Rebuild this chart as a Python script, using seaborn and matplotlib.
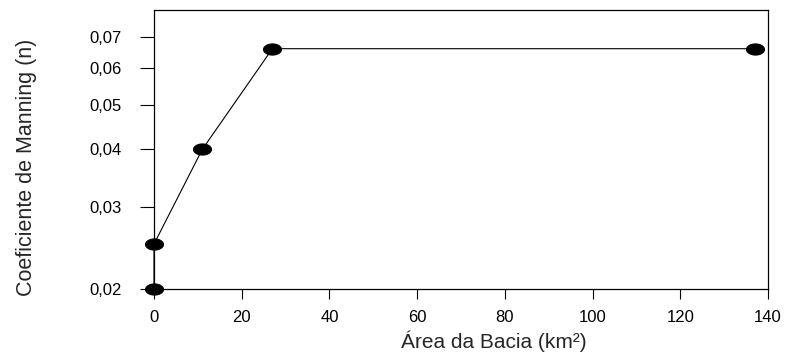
import numpy as np
import pandas as pd
import matplotlib
matplotlib.use("Agg")
import matplotlib.pyplot as plt
import matplotlib.ticker as mticker
import seaborn as sns

# valores
area_km2 = [0, 0, 11, 27, 137]
manning_n = [0.020, 0.025, 0.040, 0.066, 0.066]
y_ticks = [0.02, 0.03, 0.04, 0.05, 0.06, 0.07]
x_ticks = [0, 20, 40, 60, 80, 100, 120, 140]

df = pd.DataFrame({"area": area_km2, "n": manning_n})

sns.set_style("ticks")
plt.rcParams["font.family"] = ["Liberation Sans", "DejaVu Sans"]

fig = plt.figure(figsize=(7.95, 3.63), dpi=100)
ax = fig.add_axes([0.1937, 0.2039, 0.7723, 0.7686])

# marcador eliptico (mais largo que alto)
t = np.linspace(0, 2 * np.pi, 40)
ellipse = np.column_stack([np.cos(t), 0.62 * np.sin(t)])

sns.lineplot(data=df, x="area", y="n", ax=ax, estimator=None, sort=False,
             color="black", linewidth=0.8, marker=ellipse, markersize=13,
             markeredgecolor="black", markerfacecolor="black", clip_on=False,
             zorder=5)

ax.set_yscale("log")
ax.set_xlim(0, 140)
ax.set_ylim(0.02, 0.08)
ax.set_xticks(x_ticks)
ax.set_yticks(y_ticks)
ax.yaxis.set_minor_locator(mticker.NullLocator())
ax.yaxis.set_major_formatter(mticker.FuncFormatter(lambda v, p: f"{v:.2f}".replace(".", ",")))
ax.xaxis.set_major_formatter(mticker.FuncFormatter(lambda v, p: f"{v:.0f}"))

ax.tick_params(axis="x", direction="out", length=7, width=0.8, pad=8, labelsize=12, colors="black")
ax.tick_params(axis="y", direction="out", length=10, width=0.8, pad=13, labelsize=12, colors="black")

for s in ax.spines.values():
    s.set_visible(True)
    s.set_color("black")
    s.set_linewidth(0.9)

ax.set_xlabel("Área da Bacia (km²)", fontsize=15)
ax.set_ylabel("Coeficiente de Manning (n)", fontsize=15.5)
ax.xaxis.set_label_coords(0.554, -0.15)
ax.yaxis.set_label_coords(-0.19, 0.437)

fig.savefig("out.png", dpi=100)
